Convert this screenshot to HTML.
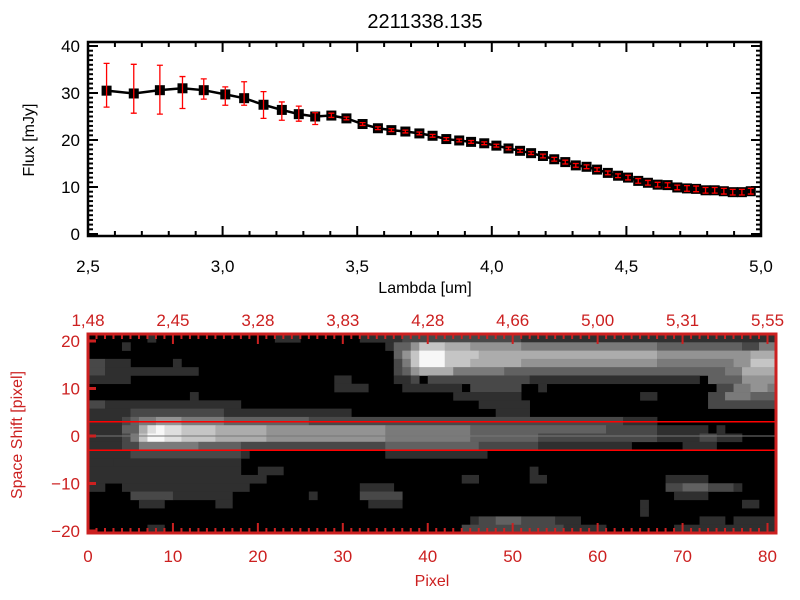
<!DOCTYPE html>
<html><head><meta charset="utf-8"><style>
html,body{margin:0;padding:0;background:#fff;}
svg{display:block;font-family:"Liberation Sans",sans-serif;}
</style></head><body>
<svg id="chart" width="800" height="600" viewBox="0 0 800 600" xmlns="http://www.w3.org/2000/svg">
<rect x="0" y="0" width="800" height="600" fill="#fff"/>
<text x="425" y="28" font-size="20" text-anchor="middle">2211338.135</text>
<g id="topPanel"></g>
<g id="botPanel"></g>
</svg>
<script>
// ---- spectrum data ----
const lambdas = [2.569,2.670,2.767,2.851,2.930,3.010,3.080,3.152,3.220,3.283,3.344,3.404,
3.460,3.520,3.577,3.627,3.679,3.731,3.780,3.831,3.879,3.923,3.972,4.017,4.062,4.105,4.146,4.190,4.232,4.273,4.312,4.352,
4.391,4.431,4.469,4.506,4.544,4.580,4.616,4.653,4.689,4.725,4.759,4.794,4.828,4.862,4.895,4.929,4.962];
const fluxes = [30.5,29.9,30.6,31.0,30.6,29.7,28.9,27.5,26.4,25.5,25.0,25.2,
24.6,23.4,22.5,22.1,21.8,21.4,20.9,20.2,19.9,19.6,19.3,18.8,18.2,17.7,17.2,16.6,15.9,15.3,14.6,14.3,
13.7,13.0,12.4,12.0,11.3,10.9,10.5,10.4,9.9,9.7,9.6,9.3,9.3,9.1,8.9,8.9,9.1];
const errHi = [5.8,6.2,5.3,2.5,2.4,1.6,3.5,2.8,1.7,1.7,0.8,0.5,
0.3,0.3,0.3,0.3,0.3,0.3,0.3,0.3,0.3,0.3,0.3,0.3,0.3,0.3,0.3,0.4,0.4,0.4,0.4,0.4,
0.4,0.4,0.4,0.5,0.5,0.5,0.5,0.5,0.5,0.6,0.6,0.6,0.6,0.6,0.6,0.6,0.6];
const errLo = [3.5,4.2,5.1,4.3,1.9,2.3,1.5,2.9,2.2,1.5,1.7,0.4,
0.3,0.3,0.3,0.3,0.3,0.3,0.3,0.3,0.3,0.3,0.3,0.3,0.3,0.3,0.3,0.4,0.4,0.4,0.4,0.4,
0.4,0.4,0.4,0.5,0.5,0.5,0.5,0.5,0.5,0.6,0.6,0.6,0.6,0.6,0.6,0.6,0.6];
const xTicksTop = ["2.5","3.0","3.5","4.0","4.5","5.0"];
const yTicksTop = ["0","10","20","30","40"];
// ---- image data: runs [row, colStart, colEnd, level 0-9] ----
const imageRuns = [
[0,7,7,1],[0,22,24,1],[0,32,36,1],[0,37,50,2],[0,51,80,1],
[1,4,4,1],[1,35,35,1],[1,36,37,3],[1,38,38,5],[1,39,41,7],[1,42,44,6],[1,45,50,5],[1,51,66,4],[1,67,76,3],[1,77,78,2],[1,79,80,4],
[2,36,36,3],[2,37,37,5],[2,38,38,7],[2,39,41,9],[2,42,45,7],[2,46,66,6],[2,67,77,5],[2,78,80,6],
[3,0,1,2],[3,2,4,1],[3,10,10,1],[3,36,36,2],[3,37,37,4],[3,38,38,7],[3,39,41,9],[3,42,44,7],[3,45,50,6],[3,51,66,5],[3,67,75,4],[3,76,77,5],[3,78,80,7],
[4,0,1,2],[4,2,4,1],[4,5,12,1],[4,36,36,2],[4,37,37,3],[4,38,38,5],[4,39,42,6],[4,43,48,4],[4,49,74,3],[4,75,76,4],[4,77,80,6],
[5,0,4,1],[5,29,30,1],[5,36,37,1],[5,38,38,2],[5,40,51,2],[5,52,71,1],[5,73,76,3],[5,77,80,5],
[6,29,32,1],[6,37,43,1],[6,45,50,2],[6,53,53,1],[6,74,75,2],[6,76,77,4],[6,78,79,5],[6,80,80,4],
[7,12,12,1],[7,43,50,1],[7,65,66,1],[7,73,74,2],[7,75,77,4],[7,78,80,3],
[8,0,1,2],[8,2,17,1],[8,46,51,1],[8,73,80,2],
[9,0,4,1],[9,5,8,2],[9,9,15,2],[9,16,30,1],[9,48,51,1],
[10,0,3,1],[10,4,4,2],[10,5,5,3],[10,6,7,4],[10,8,10,5],[10,11,15,4],[10,16,25,3],[10,26,62,2],[10,63,66,1],
[11,0,3,1],[11,4,5,3],[11,6,6,6],[11,7,7,8],[11,8,8,9],[11,9,10,8],[11,11,14,7],[11,15,20,6],[11,21,34,5],[11,35,44,4],[11,45,60,3],[11,61,66,2],[11,67,72,1],[11,74,74,1],
[12,0,3,1],[12,4,4,2],[12,5,5,4],[12,6,6,7],[12,7,8,9],[12,9,10,8],[12,11,14,7],[12,15,20,6],[12,21,34,5],[12,35,44,4],[12,45,52,3],[12,53,66,2],[12,67,76,1],[12,72,73,2],
[13,0,3,1],[13,4,5,2],[13,6,12,4],[13,13,17,3],[13,18,34,2],[13,35,45,3],[13,46,52,2],[13,53,63,1],[13,70,73,1],
[14,0,4,1],[14,5,17,2],[14,18,18,1],[14,35,46,1],
[15,0,2,1],[15,3,17,1],
[16,0,17,1],[16,20,22,1],[16,52,52,1],
[17,0,20,1],[17,44,45,1],[17,52,53,1],[17,68,72,1],
[18,0,1,1],[18,4,18,1],[18,32,35,1],[18,68,69,2],[18,70,72,3],[18,73,75,2],[18,76,76,1],
[19,5,9,2],[19,10,16,1],[19,26,26,1],[19,32,36,2],[19,69,72,1],
[20,6,8,1],[20,15,16,1],[20,33,36,1],[20,65,65,1],[20,77,78,1],
[21,65,65,1],
[22,45,45,1],[22,46,47,2],[22,48,50,3],[22,51,54,2],[22,55,57,1],[22,72,74,1],[22,76,80,1],
[23,7,8,1],[23,44,55,2],[23,56,60,1],[23,69,80,1]
];
const pixelTicks = ["0","10","20","30","40","50","60","70","80"];
const topLambdaTicks = ["1.48","2.45","3.28","3.83","4.28","4.66","5.00","5.31","5.55"];
const shiftTicks = ["-20","-10","0","10","20"];
const apertureLines = [-3,0,3];

const NS="http://www.w3.org/2000/svg";
function mk(tag,attrs,parent){const e=document.createElementNS(NS,tag);for(const k in attrs)e.setAttribute(k,attrs[k]);parent.appendChild(e);return e;}

// ---------- top panel ----------
const topG=document.getElementById('topPanel');
const X0=88,X1=761,Y0=234,PT=42,PB=236;
const xs=v=>X0+(v-2.5)/2.5*(X1-X0);
const ys=v=>Y0-v*4.7;
let ax=mk('rect',{x:X0,y:PT,width:X1-X0,height:PB-PT,fill:'none',stroke:'#000','stroke-width':2.5},topG);


for(let i=0;i<=25;i++){const v=2.5+i*0.1;const x=xs(v);const L=(i%5===0)?10:5;
 mk('line',{x1:x,y1:PB,x2:x,y2:PB-L,stroke:'#000','stroke-width':2},topG);
 mk('line',{x1:x,y1:PT,x2:x,y2:PT+L,stroke:'#000','stroke-width':2},topG);}
for(let v=0;v<=41;v++){const y=ys(v);if(y<PT)break;const L=(v%10===0)?10:5;
 mk('line',{x1:X0,y1:y,x2:X0+L,y2:y,stroke:'#000','stroke-width':2},topG);
 mk('line',{x1:X1,y1:y,x2:X1-L,y2:y,stroke:'#000','stroke-width':2},topG);}
xTicksTop.forEach(t=>{const e=mk('text',{x:xs(parseFloat(t)),y:272,'font-size':17,'text-anchor':'middle'},topG);e.textContent=t.replace('.',',');
 
 });
yTicksTop.forEach(t=>{const e=mk('text',{x:80,y:ys(parseFloat(t))+6,'font-size':17,'text-anchor':'end'},topG);e.textContent=t;
 
 });
let xl=mk('text',{x:425,y:293,'font-size':16,'text-anchor':'middle'},topG);xl.textContent='Lambda [um]';


let yl=mk('text',{x:0,y:0,'font-size':16,'text-anchor':'middle',transform:'translate(34,140) rotate(-90)'},topG);yl.textContent='Flux [mJy]';


let pts=lambdas.map((l,i)=>xs(l)+','+ys(fluxes[i])).join(' ');
let pl=mk('polyline',{points:pts,fill:'none',stroke:'#000','stroke-width':2.5},topG);


lambdas.forEach((l,i)=>{const s=mk('rect',{x:xs(l)-5,y:ys(fluxes[i])-5,width:10,height:10,fill:'#000'},topG);
 
 });
lambdas.forEach((l,i)=>{const x=xs(l),yh=ys(fluxes[i]+errHi[i]),ylo=ys(fluxes[i]-errLo[i]);
 const g=mk('path',{d:`M${x},${yh}V${ylo}M${x-3},${yh}H${x+3}M${x-3},${ylo}H${x+3}`,stroke:'#ff0000','stroke-width':1.3,fill:'none'},topG);
 
 });

// ---------- bottom panel ----------
const botG=document.getElementById('botPanel');
const RED='#cc2020';
const BX0=88,BX1=776,BT=334,BB=533,NC=81,NR=24;
const cw=(BX1-BX0)/NC,rh=(BB-BT)/NR;
const px=p=>BX0+p*cw;
const sy=v=>436-v*4.75;
let bg=mk('rect',{x:BX0,y:BT,width:BX1-BX0,height:BB-BT,fill:'#000'},botG);


imageRuns.forEach(r=>{const g=r[3]===0?0:Math.min(250,22+r[3]*25);
 const c=mk('rect',{x:px(r[1]),y:BT+r[0]*rh,width:(r[2]-r[1]+1)*cw+0.3,height:rh+0.3,fill:`rgb(${g},${g},${g})`},botG);
 
 });
apertureLines.forEach(v=>{const l=mk('line',{x1:BX0,x2:BX1,y1:sy(v),y2:sy(v),stroke:v===0?'#777':'#ff0000','stroke-width':v===0?1:1.5},botG);
 
 });
let bf=mk('rect',{x:BX0,y:BT,width:BX1-BX0,height:BB-BT,fill:'none',stroke:RED,'stroke-width':3},botG);


for(let p=0;p<=80;p++){const x=px(p);const L=(p%10===0)?10:5;
 mk('line',{x1:x,y1:BB,x2:x,y2:BB-L,stroke:RED,'stroke-width':2},botG);
 mk('line',{x1:x,y1:BT,x2:x,y2:BT+L,stroke:RED,'stroke-width':2},botG);}
shiftTicks.forEach(t=>{const y=sy(parseFloat(t));
 mk('line',{x1:BX0,y1:y,x2:BX0+8,y2:y,stroke:RED,'stroke-width':3},botG);
 const e=mk('text',{x:80,y:y+6,'font-size':17,'text-anchor':'end',fill:RED},botG);e.textContent=t.replace('-','\u2212');
 
 });
pixelTicks.forEach(t=>{const e=mk('text',{x:px(parseFloat(t)),y:562,'font-size':17,'text-anchor':'middle',fill:RED},botG);e.textContent=t;
 
 });
topLambdaTicks.forEach((t,i)=>{const e=mk('text',{x:px(i*10),y:326,'font-size':17,'text-anchor':'middle',fill:RED},botG);e.textContent=t.replace('.',',');
 
 });
let pxl=mk('text',{x:432,y:586,'font-size':16,'text-anchor':'middle',fill:RED},botG);pxl.textContent='Pixel';


let ssl=mk('text',{x:0,y:0,'font-size':16,'text-anchor':'middle',fill:RED,transform:'translate(22,435) rotate(-90)'},botG);ssl.textContent='Space Shift [pixel]';


</script>
</body></html>
